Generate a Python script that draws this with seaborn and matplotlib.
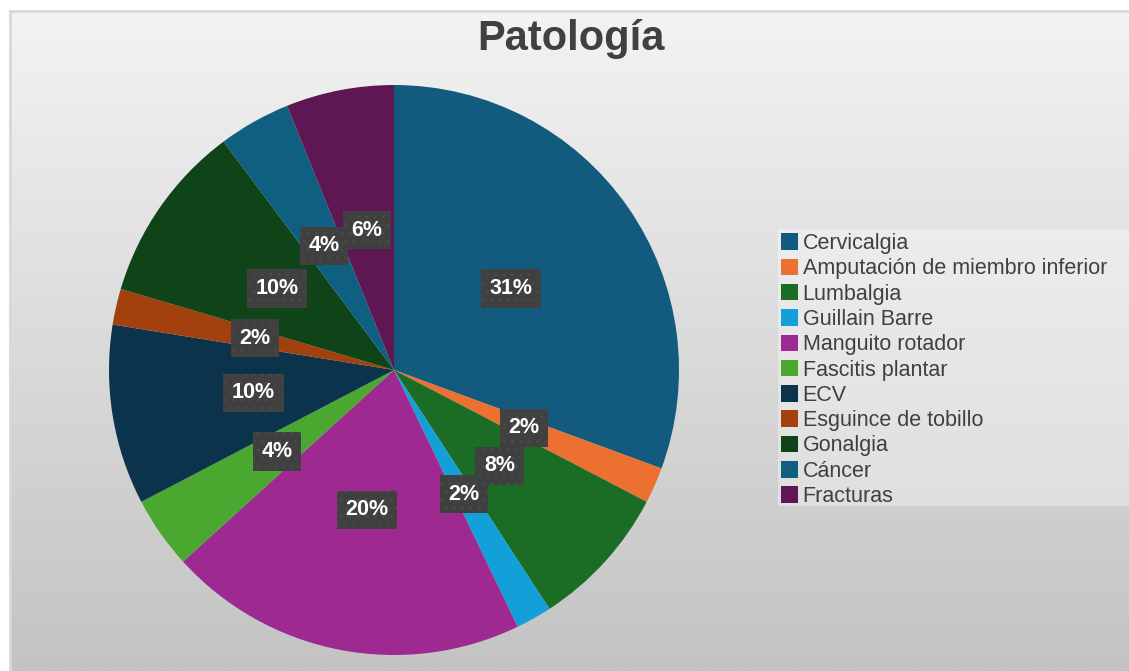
import numpy as np
import matplotlib
matplotlib.use("Agg")
import matplotlib.pyplot as plt
from matplotlib.patches import Rectangle
import seaborn as sns

# data (patient counts, clockwise from 12 o'clock)
categories = ["Cervicalgia", "Amputación de miembro inferior", "Lumbalgia",
              "Guillain Barre", "Manguito rotador", "Fascitis plantar", "ECV",
              "Esguince de tobillo", "Gonalgia", "Cáncer", "Fracturas"]
counts = [15, 1, 4, 1, 10, 2, 5, 1, 5, 2, 3]
colors = ["#135b7e", "#ec7030", "#1b6c24", "#13a0d8", "#9e2a91", "#4aa72f",
          "#0b344c", "#a3410e", "#0f4418", "#0f5f80", "#5f1753"]
title = "Patología"

sns.set_theme(style="white")
plt.rcParams["font.family"] = ["Liberation Sans", "DejaVu Sans"]
plt.rcParams["hatch.linewidth"] = 0.8
palette = sns.color_palette(colors)

W, H = 1129, 671
fig = plt.figure(figsize=(W / 100, H / 100), dpi=100, facecolor="white")

# gradient background of the chart area
bg = fig.add_axes([10 / W, 0, 1 - 10 / W, 1 - 11 / H])
grad = np.linspace(0, 1, 256).reshape(-1, 1)
bg.imshow(grad, aspect="auto", cmap=matplotlib.colors.LinearSegmentedColormap.from_list(
    "bg", ["#f3f3f3", "#c3c3c3"]), extent=[0, 1, 0, 1], origin="upper")
bg.set_xticks([])
bg.set_yticks([])
for side in ["right", "bottom"]:
    bg.spines[side].set_visible(False)
for side in ["top", "left"]:
    bg.spines[side].set_color("#d8d8d8")
    bg.spines[side].set_linewidth(2)

# pie
ax = fig.add_axes([109 / W, 16 / H, 570 / W, 570 / H])
ax.set_facecolor("none")
wedges, texts, autotexts = ax.pie(
    counts, colors=palette, startangle=90, counterclock=False,
    autopct="%1.0f%%", pctdistance=0.5, radius=1,
    wedgeprops=dict(linewidth=0),
    textprops=dict(color="white", fontsize=15.5, fontweight="bold"))
for t in autotexts:
    t.set_bbox(dict(boxstyle="square,pad=0.4", facecolor="#404040",
                    edgecolor="#4b4b4b", hatch="..", linewidth=0))
ax.set_xlim(-1, 1)
ax.set_ylim(-1, 1)
ax.set_aspect("equal")
ax.axis("off")

fig.text(571 / W, 1 - 50 / H, title, ha="center", va="baseline",
         fontsize=30, fontweight="bold", color="#404040")

# legend with a faint light box behind it
fig.patches.append(Rectangle((778 / W, 1 - 506 / H), 1 - 778 / W, 277 / H,
                             transform=fig.transFigure, facecolor="white",
                             alpha=0.35, linewidth=0, zorder=1))
leg = fig.legend(wedges, categories, loc="upper left",
                 bbox_to_anchor=(781 / W, 1 - 233 / H), frameon=False,
                 fontsize=15.5, handlelength=0.8, handleheight=0.8,
                 handletextpad=0.2, labelspacing=0.2, borderpad=0,
                 borderaxespad=0)
for t in leg.get_texts():
    t.set_color("#404040")

fig.savefig("out.png", dpi=100, facecolor="white")
